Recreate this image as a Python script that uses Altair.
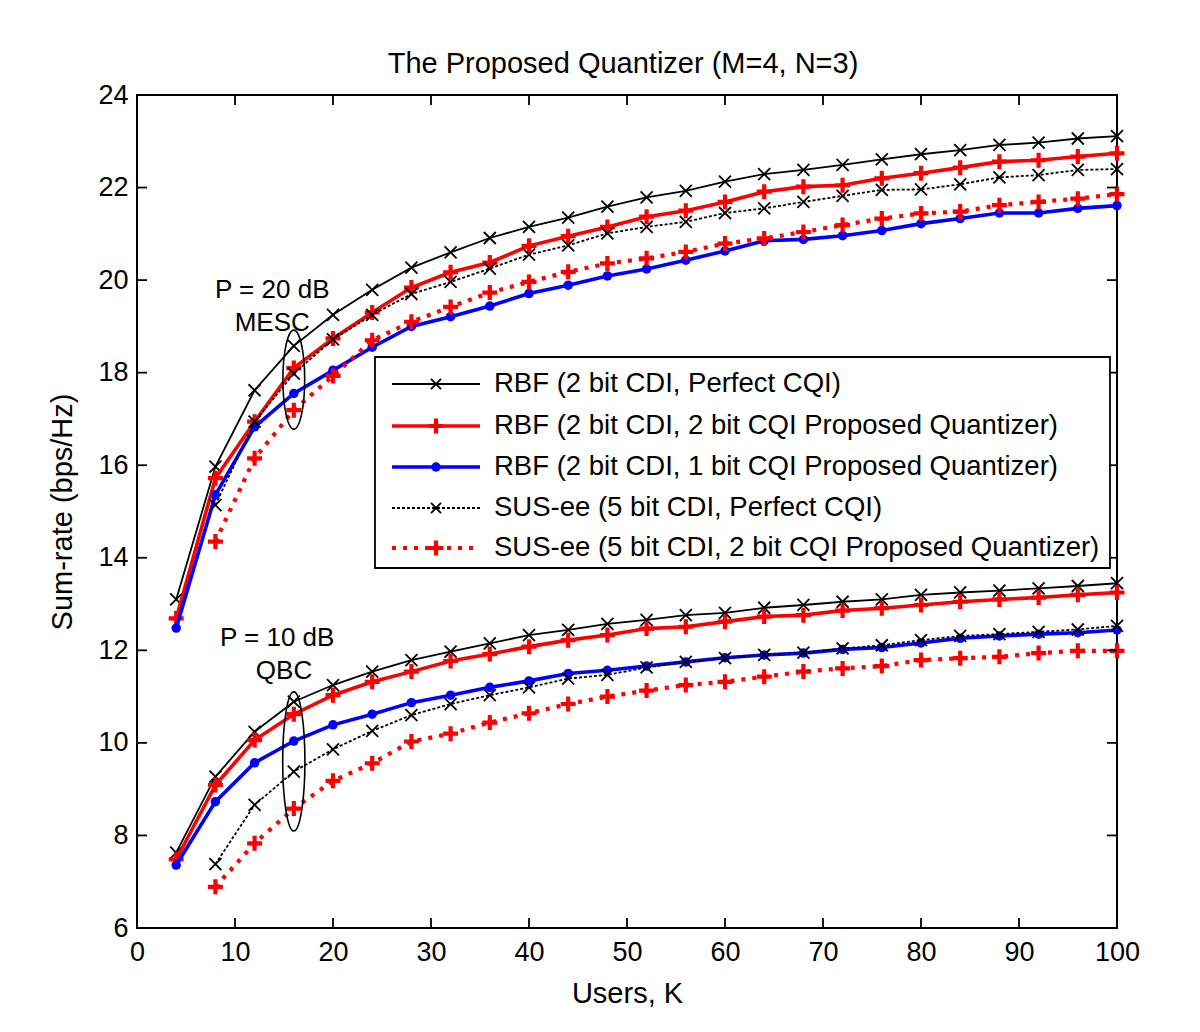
import altair as alt
import pandas as pd

K_rbf = list(range(4, 101, 4))
K_sus = list(range(8, 101, 4))

# P = 20 dB curves
rbf_perf_20 = [13.10, 15.97, 17.62, 18.58, 19.25, 19.79, 20.27, 20.60, 20.91, 21.15, 21.35, 21.59, 21.79,
               21.93, 22.13, 22.29, 22.38, 22.49, 22.61, 22.72, 22.81, 22.92, 22.97, 23.06, 23.11]
rbf_2bit_20 = [12.69, 15.72, 16.94, 18.10, 18.74, 19.30, 19.84, 20.17, 20.38, 20.74, 20.95, 21.15, 21.37,
               21.50, 21.69, 21.91, 22.02, 22.05, 22.20, 22.31, 22.43, 22.56, 22.59, 22.67, 22.74]
rbf_1bit_20 = [12.48, 15.36, 16.83, 17.55, 18.05, 18.55, 19.00, 19.21, 19.44, 19.71, 19.89, 20.09, 20.24,
               20.43, 20.63, 20.85, 20.88, 20.96, 21.07, 21.22, 21.33, 21.45, 21.45, 21.55, 21.61]
sus_perf_20 = [15.14, 16.94, 17.98, 18.72, 19.25, 19.70, 19.96, 20.25, 20.55, 20.75, 21.01, 21.15,
               21.26, 21.45, 21.55, 21.69, 21.82, 21.95, 21.96, 22.07, 22.22, 22.27, 22.38, 22.40]
sus_2bit_20 = [14.35, 16.15, 17.19, 17.93, 18.70, 19.10, 19.42, 19.73, 19.96, 20.18, 20.36, 20.47,
               20.61, 20.79, 20.90, 21.04, 21.19, 21.33, 21.44, 21.48, 21.62, 21.69, 21.76, 21.86]

# P = 10 dB curves
rbf_perf_10 = [7.63, 9.27, 10.24, 10.89, 11.25, 11.54, 11.79, 11.97, 12.15, 12.33, 12.44, 12.57, 12.66,
               12.76, 12.81, 12.92, 12.98, 13.05, 13.10, 13.20, 13.25, 13.29, 13.34, 13.39, 13.45]
rbf_2bit_10 = [7.48, 9.09, 10.06, 10.62, 11.03, 11.32, 11.54, 11.77, 11.92, 12.08, 12.22, 12.33, 12.47,
               12.51, 12.62, 12.73, 12.76, 12.86, 12.91, 12.98, 13.05, 13.10, 13.14, 13.20, 13.25]
rbf_1bit_10 = [7.36, 8.73, 9.57, 10.04, 10.39, 10.62, 10.87, 11.03, 11.20, 11.34, 11.50, 11.57, 11.66,
               11.75, 11.84, 11.90, 11.94, 12.02, 12.06, 12.16, 12.26, 12.31, 12.35, 12.38, 12.44]
sus_perf_10 = [7.38, 8.66, 9.38, 9.86, 10.26, 10.60, 10.84, 11.03, 11.20, 11.39, 11.47, 11.63,
               11.75, 11.83, 11.90, 11.95, 12.04, 12.11, 12.22, 12.31, 12.35, 12.40, 12.45, 12.53]
sus_2bit_10 = [6.89, 7.83, 8.58, 9.18, 9.56, 10.03, 10.20, 10.44, 10.64, 10.84, 11.00, 11.13,
               11.25, 11.32, 11.43, 11.54, 11.61, 11.66, 11.79, 11.83, 11.86, 11.94, 11.99, 11.99]

labels = [
    "RBF (2 bit CDI, Perfect CQI)",
    "RBF (2 bit CDI, 2 bit CQI Proposed Quantizer)",
    "RBF (2 bit CDI, 1 bit CQI Proposed Quantizer)",
    "SUS-ee (5 bit CDI, Perfect CQI)",
    "SUS-ee (5 bit CDI, 2 bit CQI Proposed Quantizer)",
]
title_text = "The Proposed Quantizer (M=4, N=3)"
x_ticks = list(range(0, 101, 10))
y_ticks = list(range(6, 25, 2))

W, H = 980, 833
XSC = alt.Scale(domain=[0, 100], nice=False, zero=False)
YSC = alt.Scale(domain=[6, 24], nice=False, zero=False)
FONT = "Liberation Sans"

X_SHAPE = "M-1,-1L1,1M-1,1L1,-1"
PLUS_SHAPE = "M-1,0L1,0M0,-1L0,1"

styles = [
    dict(color="black", width=1.8, dash=None, shape=X_SHAPE, size=144, filled=False, mw=1.8),
    dict(color="#ff0000", width=3.6, dash=None, shape=PLUS_SHAPE, size=225, filled=False, mw=4.2),
    dict(color="#0000ff", width=3.6, dash=None, shape="circle", size=90, filled=True, mw=0),
    dict(color="black", width=1.8, dash=[3, 2], shape=X_SHAPE, size=144, filled=False, mw=1.8),
    dict(color="#ff0000", width=4.2, dash=[4, 7], shape=PLUS_SHAPE, size=225, filled=False, mw=4.2),
]

series_data = [
    (K_rbf, rbf_perf_20, rbf_perf_10),
    (K_rbf, rbf_2bit_20, rbf_2bit_10),
    (K_rbf, rbf_1bit_20, rbf_1bit_10),
    (K_sus, sus_perf_20, sus_perf_10),
    (K_sus, sus_2bit_20, sus_2bit_10),
]

layers = []
for (ks, v20, v10), st in zip(series_data, styles):
    df = pd.concat([
        pd.DataFrame({"K": ks, "rate": v20, "P": "20 dB"}),
        pd.DataFrame({"K": ks, "rate": v10, "P": "10 dB"}),
    ])
    line_kw = dict(color=st["color"], strokeWidth=st["width"], clip=True)
    if st["dash"]:
        line_kw["strokeDash"] = st["dash"]
    base = alt.Chart(df).encode(
        x=alt.X("K:Q", scale=XSC, axis=alt.Axis(values=x_ticks, title="Users, K", labelFlush=False)),
        y=alt.Y("rate:Q", scale=YSC, axis=alt.Axis(values=y_ticks, title="Sum-rate (bps/Hz)", labelFlush=False)),
        detail="P:N",
    )
    layers.append(base.mark_line(**line_kw))
    if st["filled"]:
        pt = base.mark_point(shape=st["shape"], size=st["size"], filled=True, color=st["color"], opacity=1)
    else:
        pt = base.mark_point(shape=st["shape"], size=st["size"], filled=False, color=st["color"],
                             strokeWidth=st["mw"], opacity=1)
    layers.append(pt)

# ellipses marking K = 16
ell_df20 = pd.DataFrame({"K": [16], "rate": [17.85]})
ell_df10 = pd.DataFrame({"K": [16], "rate": [9.6]})
ELL20 = "M0,-1A0.22,1 0 1,1 0,1A0.22,1 0 1,1 0,-1Z"
ELL10 = "M0,-1A0.16,1 0 1,1 0,1A0.16,1 0 1,1 0,-1Z"
for dfe, shp, sz in [(ell_df20, ELL20, 99 ** 2), (ell_df10, ELL10, 139 ** 2)]:
    layers.append(alt.Chart(dfe).mark_point(shape=shp, size=sz, filled=False, color="black",
                                            strokeWidth=1.6, opacity=1).encode(
        x=alt.X("K:Q", scale=XSC), y=alt.Y("rate:Q", scale=YSC)))

ann_df = pd.DataFrame({
    "K": [13.8, 13.8, 14.3, 15.0],
    "rate": [19.78, 19.08, 12.26, 11.56],
    "txt": ["P = 20 dB", "MESC", "P = 10 dB", "QBC"],
})
layers.append(alt.Chart(ann_df).mark_text(font=FONT, fontSize=26, color="black",
                                          align="center", baseline="middle").encode(
    x=alt.X("K:Q", scale=XSC), y=alt.Y("rate:Q", scale=YSC), text="txt:N"))

# inward ticks on all four sides
xt = pd.DataFrame({"t": x_ticks})
yt = pd.DataFrame({"t": y_ticks})
tick_kw = dict(color="black", strokeWidth=1.8)
layers.append(alt.Chart(xt).mark_rule(**tick_kw).encode(x=alt.X("t:Q", scale=XSC), y=alt.value(H), y2=alt.value(H - 10)))
layers.append(alt.Chart(xt).mark_rule(**tick_kw).encode(x=alt.X("t:Q", scale=XSC), y=alt.value(0), y2=alt.value(10)))
layers.append(alt.Chart(yt).mark_rule(**tick_kw).encode(y=alt.Y("t:Q", scale=YSC), x=alt.value(0), x2=alt.value(10)))
layers.append(alt.Chart(yt).mark_rule(**tick_kw).encode(y=alt.Y("t:Q", scale=YSC), x=alt.value(W), x2=alt.value(W - 10)))

# legend box
LX0, LX1, LY0, LY1 = 238, 973, 262, 473
layers.append(alt.Chart(pd.DataFrame({"a": [0]})).mark_rect(fill="white", stroke="black", strokeWidth=1.8).encode(
    x=alt.value(LX0), x2=alt.value(LX1), y=alt.value(LY0), y2=alt.value(LY1)))
row_y = [289, 331, 372, 413, 453]
for i, (lab, st) in enumerate(zip(labels, styles)):
    one = pd.DataFrame({"label": [lab]})
    rk = dict(color=st["color"], strokeWidth=st["width"])
    if st["dash"]:
        rk["strokeDash"] = st["dash"]
    layers.append(alt.Chart(one).mark_rule(**rk).encode(
        x=alt.value(255), x2=alt.value(343), y=alt.value(row_y[i])))
    if st["filled"]:
        mk = alt.Chart(one).mark_point(shape=st["shape"], size=st["size"], filled=True, color=st["color"], opacity=1)
    else:
        mk = alt.Chart(one).mark_point(shape=st["shape"], size=st["size"] * 0.7 if st["shape"] == X_SHAPE else st["size"],
                                       filled=False, color=st["color"], strokeWidth=st["mw"], opacity=1)
    layers.append(mk.encode(x=alt.value(299), y=alt.value(row_y[i])))
    layers.append(alt.Chart(one).mark_text(font=FONT, fontSize=27.5, color="black", align="left",
                                           baseline="middle").encode(
        x=alt.value(357), y=alt.value(row_y[i]), text="label:N"))

# title as a text mark above the plot
layers.append(alt.Chart(pd.DataFrame({"title": [title_text]})).mark_text(
    font=FONT, fontSize=29, color="black", align="center", baseline="alphabetic").encode(
    x=alt.value(486), y=alt.value(-22), text="title:N"))

chart = alt.layer(*layers).properties(
    width=W, height=H,
    autosize=alt.AutoSizeParams(type="none"),
    padding={"left": 129, "top": 87, "right": 75, "bottom": 96},
).configure_view(stroke="black", strokeWidth=2).configure_axis(
    grid=False, ticks=False, domain=False, labelFont=FONT, titleFont=FONT,
    labelFontSize=27, titleFontSize=29, labelColor="black", titleColor="black",
    titleFontWeight="normal",
).configure_axisX(labelPadding=11, titlePadding=14).configure_axisY(labelPadding=9, titlePadding=20)

chart.save("out.html", embed_options={"renderer": "svg", "actions": False})
